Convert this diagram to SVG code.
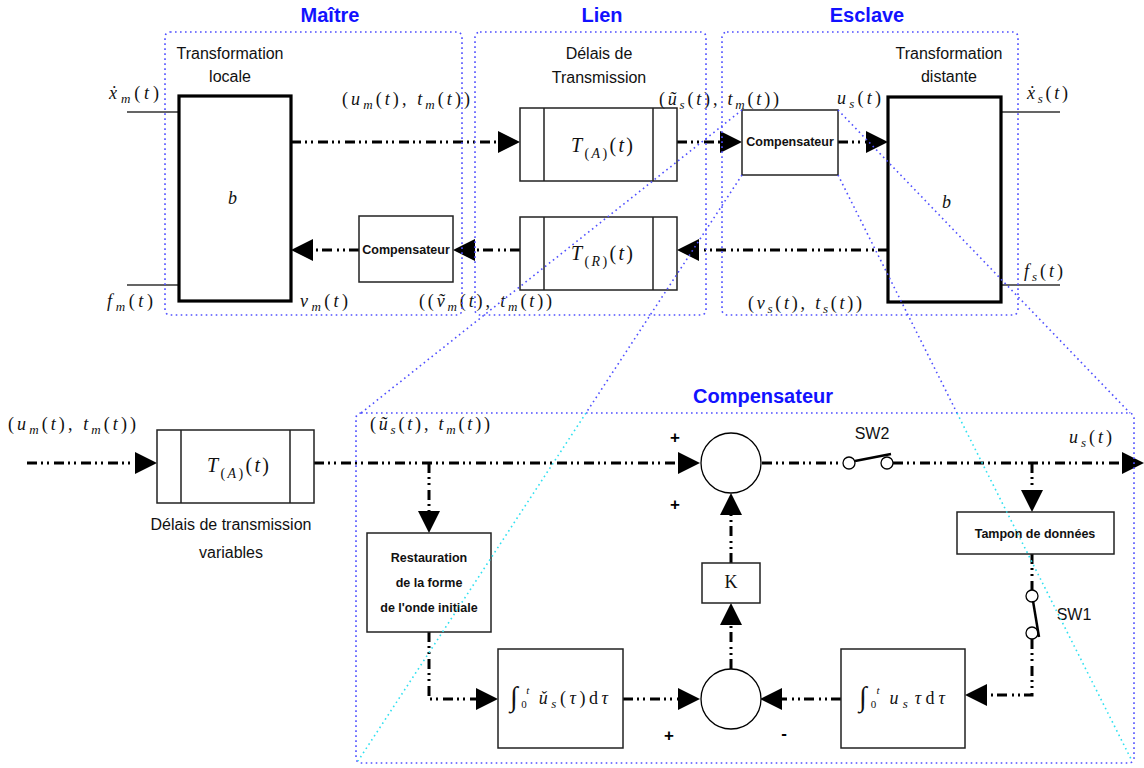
<svg xmlns="http://www.w3.org/2000/svg" width="1144" height="768" viewBox="0 0 1144 768">
<style>
.t{font-family:"Liberation Sans",Arial,sans-serif;font-weight:bold;font-size:20px;fill:#1212ff;text-anchor:middle}
.lbl{font-family:"Liberation Sans",Arial,sans-serif;font-size:16px;fill:#111;text-anchor:middle}
.bl{font-family:"Liberation Sans",Arial,sans-serif;font-weight:bold;font-size:12.5px;fill:#111;text-anchor:middle}
.pm{font-family:"Liberation Sans",Arial,sans-serif;font-weight:bold;font-size:17px;fill:#000;text-anchor:middle}
.m{font-family:"Liberation Serif","Times New Roman",serif;font-size:18px;fill:#111}
.tl{font-family:"Liberation Serif","Times New Roman",serif;font-size:20px;fill:#111}
.i{font-style:italic}
.s{font-size:13px;font-style:italic}
.sp{font-size:14px}
.box{fill:#fff;stroke:#222;stroke-width:1.5}
.big{fill:#fff;stroke:#000;stroke-width:3.2}
.div{stroke:#222;stroke-width:1.5}
.fl{fill:none;stroke:#000;stroke-width:3;stroke-dasharray:10 4 2 4 2 5}
.thin{fill:none;stroke:#333;stroke-width:1.3}
.sw{fill:#fff;stroke:#000;stroke-width:1.3}
.lev{stroke:#000;stroke-width:2.5}
.reg{fill:none;stroke:#5050ff;stroke-width:1.6;stroke-dasharray:1.6 3.4}
.cy{fill:none;stroke:#30e0f0;stroke-width:1.6;stroke-dasharray:1.6 3.4}
</style>
<defs>
<marker id="ah" markerUnits="userSpaceOnUse" markerWidth="23" markerHeight="23" refX="18" refY="11" orient="auto" overflow="visible"><path d="M0,0 L22,11 L0,22 Z" fill="#000"/></marker>
</defs>
<rect width="1144" height="768" fill="#fff"/>

<!-- titles -->
<text class="t" x="330" y="22">Maître</text>
<text class="t" x="602" y="22">Lien</text>
<text class="t" x="867" y="22">Esclave</text>
<text class="t" x="763" y="403">Compensateur</text>

<!-- connectors -->
<g id="connectors">
<path class="fl" d="M291,142 H516" marker-end="url(#ah)"/>
<path class="fl" d="M677,142 H738" marker-end="url(#ah)"/>
<path class="fl" d="M838,142 H884" marker-end="url(#ah)"/>
<path class="fl" d="M888,250 H681" marker-end="url(#ah)"/>
<path class="fl" d="M520,250 H457" marker-end="url(#ah)"/>
<path class="fl" d="M359,250 H295" marker-end="url(#ah)"/>
<path class="thin" d="M127,112 H179 M127,285 H179 M1001,112 H1060 M1001,285 H1060"/>
<path class="fl" d="M27,463 H153" marker-end="url(#ah)"/>
<path class="fl" d="M314,463 H696" marker-end="url(#ah)"/>
<path class="fl" d="M429,463 V529" marker-end="url(#ah)"/>
<path class="fl" d="M762,463 H843"/>
<path class="fl" d="M893,463 H1140" marker-end="url(#ah)"/>
<path class="fl" d="M1032,463 V508" marker-end="url(#ah)"/>
<path class="fl" d="M1032,554 V590"/>
<path class="fl" d="M1032,639 V695 H969" marker-end="url(#ah)"/>
<path class="fl" d="M841,699 H764" marker-end="url(#ah)"/>
<path class="fl" d="M623,699 H696" marker-end="url(#ah)"/>
<path class="fl" d="M429,632 V699 H494" marker-end="url(#ah)"/>
<path class="fl" d="M731,669 V607" marker-end="url(#ah)"/>
<path class="fl" d="M731,563 V497" marker-end="url(#ah)"/>
</g>

<!-- top nodes -->
<g id="master">
<rect class="big" x="179" y="96" width="112" height="205"/>
<text class="lbl" x="230" y="59">Transformation</text>
<text class="lbl" x="230" y="82">locale</text>
<text class="m i" x="228" y="204">b</text>
</g>
<g id="ta-top">
<rect class="box" x="520" y="108" width="157" height="73"/>
<path class="div" d="M544,108 V181 M653,108 V181"/>
<text class="tl" x="571" y="152" textLength="62"><tspan class="i">T</tspan><tspan class="sp" dy="6">(</tspan><tspan class="sp i">A</tspan><tspan class="sp">)</tspan><tspan dy="-6">(</tspan><tspan class="i">t</tspan>)</text>
</g>
<g id="tr-top">
<rect class="box" x="520" y="217" width="157" height="73"/>
<path class="div" d="M544,217 V290 M653,217 V290"/>
<text class="tl" x="571" y="260" textLength="62"><tspan class="i">T</tspan><tspan class="sp" dy="6">(</tspan><tspan class="sp i">R</tspan><tspan class="sp">)</tspan><tspan dy="-6">(</tspan><tspan class="i">t</tspan>)</text>
</g>
<text class="lbl" x="599" y="59">Délais de</text>
<text class="lbl" x="599" y="83">Transmission</text>
<g id="comp-top">
<rect class="box" x="742" y="110" width="96" height="65"/>
<text class="bl" x="790" y="146">Compensateur</text>
</g>
<g id="comp-back">
<rect class="box" x="359" y="216" width="94" height="66"/>
<text class="bl" x="406" y="254">Compensateur</text>
</g>
<g id="slave">
<rect class="big" x="888" y="97" width="113" height="205"/>
<text class="lbl" x="949" y="59">Transformation</text>
<text class="lbl" x="949" y="82">distante</text>
<text class="m i" x="942" y="208">b</text>
</g>

<!-- top labels -->
<text class="m" x="109" y="99" textLength="50"><tspan class="i">ẋ</tspan><tspan class="s" dy="4">m</tspan><tspan dy="-4">(</tspan><tspan class="i">t</tspan>)</text>
<text class="m" x="107" y="307" textLength="46"><tspan class="i">f</tspan><tspan class="s" dy="4">m</tspan><tspan dy="-4">(</tspan><tspan class="i">t</tspan>)</text>
<text class="m" x="342" y="105" textLength="128">(<tspan class="i">u</tspan><tspan class="s" dy="4">m</tspan><tspan dy="-4">(</tspan><tspan class="i">t</tspan>), <tspan class="i">t</tspan><tspan class="s" dy="4">m</tspan><tspan dy="-4">(</tspan><tspan class="i">t</tspan>))</text>
<text class="m" x="300" y="307" textLength="48"><tspan class="i">v</tspan><tspan class="s" dy="4">m</tspan><tspan dy="-4">(</tspan><tspan class="i">t</tspan>)</text>
<text class="m" x="419" y="307" textLength="133">((<tspan class="i">ṽ</tspan><tspan class="s" dy="4">m</tspan><tspan dy="-4">(</tspan><tspan class="i">t</tspan>), <tspan class="i">t</tspan><tspan class="s" dy="4">m</tspan><tspan dy="-4">(</tspan><tspan class="i">t</tspan>))</text>
<text class="m" x="659" y="105" textLength="120">(<tspan class="i">ũ</tspan><tspan class="s" dy="4">s</tspan><tspan dy="-4">(</tspan><tspan class="i">t</tspan>), <tspan class="i">t</tspan><tspan class="s" dy="4">m</tspan><tspan dy="-4">(</tspan><tspan class="i">t</tspan>))</text>
<text class="m" x="837" y="104" textLength="44"><tspan class="i">u</tspan><tspan class="s" dy="4">s</tspan><tspan dy="-4">(</tspan><tspan class="i">t</tspan>)</text>
<text class="m" x="1027" y="99" textLength="41"><tspan class="i">ẋ</tspan><tspan class="s" dy="4">s</tspan><tspan dy="-4">(</tspan><tspan class="i">t</tspan>)</text>
<text class="m" x="1024" y="277" textLength="39"><tspan class="i">f</tspan><tspan class="s" dy="4">s</tspan><tspan dy="-4">(</tspan><tspan class="i">t</tspan>)</text>
<text class="m" x="748" y="309" textLength="114">(<tspan class="i">v</tspan><tspan class="s" dy="4">s</tspan><tspan dy="-4">(</tspan><tspan class="i">t</tspan>), <tspan class="i">t</tspan><tspan class="s" dy="4">s</tspan><tspan dy="-4">(</tspan><tspan class="i">t</tspan>))</text>

<!-- bottom nodes -->
<g id="ta-bottom">
<rect class="box" x="157" y="430" width="157" height="73"/>
<path class="div" d="M181,430 V503 M290,430 V503"/>
<text class="tl" x="207" y="472" textLength="62"><tspan class="i">T</tspan><tspan class="sp" dy="6">(</tspan><tspan class="sp i">A</tspan><tspan class="sp">)</tspan><tspan dy="-6">(</tspan><tspan class="i">t</tspan>)</text>
</g>
<text class="lbl" x="231" y="530">Délais de transmission</text>
<text class="lbl" x="231" y="558">variables</text>
<text class="m" x="8" y="430" textLength="128">(<tspan class="i">u</tspan><tspan class="s" dy="4">m</tspan><tspan dy="-4">(</tspan><tspan class="i">t</tspan>), <tspan class="i">t</tspan><tspan class="s" dy="4">m</tspan><tspan dy="-4">(</tspan><tspan class="i">t</tspan>))</text>
<text class="m" x="370" y="430" textLength="120">(<tspan class="i">ũ</tspan><tspan class="s" dy="4">s</tspan><tspan dy="-4">(</tspan><tspan class="i">t</tspan>), <tspan class="i">t</tspan><tspan class="s" dy="4">m</tspan><tspan dy="-4">(</tspan><tspan class="i">t</tspan>))</text>
<text class="m" x="1069" y="443" textLength="43"><tspan class="i">u</tspan><tspan class="s" dy="4">s</tspan><tspan dy="-4">(</tspan><tspan class="i">t</tspan>)</text>

<g id="restauration">
<rect class="box" x="367" y="533" width="124" height="99"/>
<text class="bl" x="429" y="562">Restauration</text>
<text class="bl" x="429" y="587">de la forme</text>
<text class="bl" x="429" y="612">de l'onde initiale</text>
</g>
<g id="sum-top">
<circle class="sw" cx="731" cy="463" r="30"/>
<text class="pm" x="675" y="443">+</text>
<text class="pm" x="675" y="510">+</text>
</g>
<g id="gain-k">
<rect class="box" x="702" y="563" width="58" height="40"/>
<text class="m" x="731" y="588" font-size="12" text-anchor="middle">K</text>
</g>
<g id="sum-bottom">
<circle class="sw" cx="731" cy="699" r="30"/>
<text class="pm" x="669" y="741">+</text>
<text class="pm" x="784" y="739">-</text>
</g>
<g id="integral-1">
<rect class="box" x="498" y="649" width="125" height="99"/>
<text class="m" x="510" y="706" textLength="98"><tspan font-size="28">∫</tspan><tspan font-size="11" dy="2">0</tspan><tspan font-size="11" class="i" dx="-4" dy="-14">t</tspan><tspan class="i" dx="6" dy="10">ǔ</tspan><tspan class="s" dy="4">s</tspan><tspan dy="-4">(</tspan><tspan class="i">τ</tspan>)d<tspan class="i">τ</tspan></text>
</g>
<g id="integral-2">
<rect class="box" x="841" y="649" width="124" height="99"/>
<text class="m" x="859" y="706" textLength="86"><tspan font-size="28">∫</tspan><tspan font-size="11" dy="2">0</tspan><tspan font-size="11" class="i" dx="-4" dy="-14">t</tspan><tspan class="i" dx="6" dy="10">u</tspan><tspan class="s" dy="4">s</tspan><tspan class="i" dx="3" dy="-4">τ</tspan>d<tspan class="i">τ</tspan></text>
</g>
<g id="sw2">
<circle class="sw" cx="849" cy="463" r="6"/>
<circle class="sw" cx="887" cy="463" r="6"/>
<line class="lev" x1="855" y1="461" x2="891" y2="454"/>
<text class="lbl" x="872" y="439" font-size="15">SW2</text>
</g>
<g id="tampon">
<rect class="box" x="957" y="512" width="157" height="42"/>
<text class="bl" x="1035" y="538">Tampon de données</text>
</g>
<g id="sw1">
<circle class="sw" cx="1032" cy="596" r="6"/>
<circle class="sw" cx="1032" cy="633" r="6"/>
<line class="lev" x1="1033" y1="601" x2="1039" y2="637"/>
<text class="lbl" x="1074" y="620" font-size="15">SW1</text>
</g>

<!-- regions and zoom lines -->
<g id="regions">
<rect class="reg" x="165" y="32" width="297" height="283" rx="5"/>
<rect class="reg" x="475" y="32" width="231" height="283" rx="5"/>
<rect class="reg" x="722" y="32" width="296" height="283" rx="5"/>
<rect class="reg" x="356" y="413" width="778" height="350" rx="5"/>
<path class="reg" d="M742,110 L361,413 M742,175 L586,413 M838,110 L1130,413 M838,175 L957,413"/>
<path class="cy" d="M586,413 L358,761 M957,413 L1132,761"/>
</g>
</svg>
